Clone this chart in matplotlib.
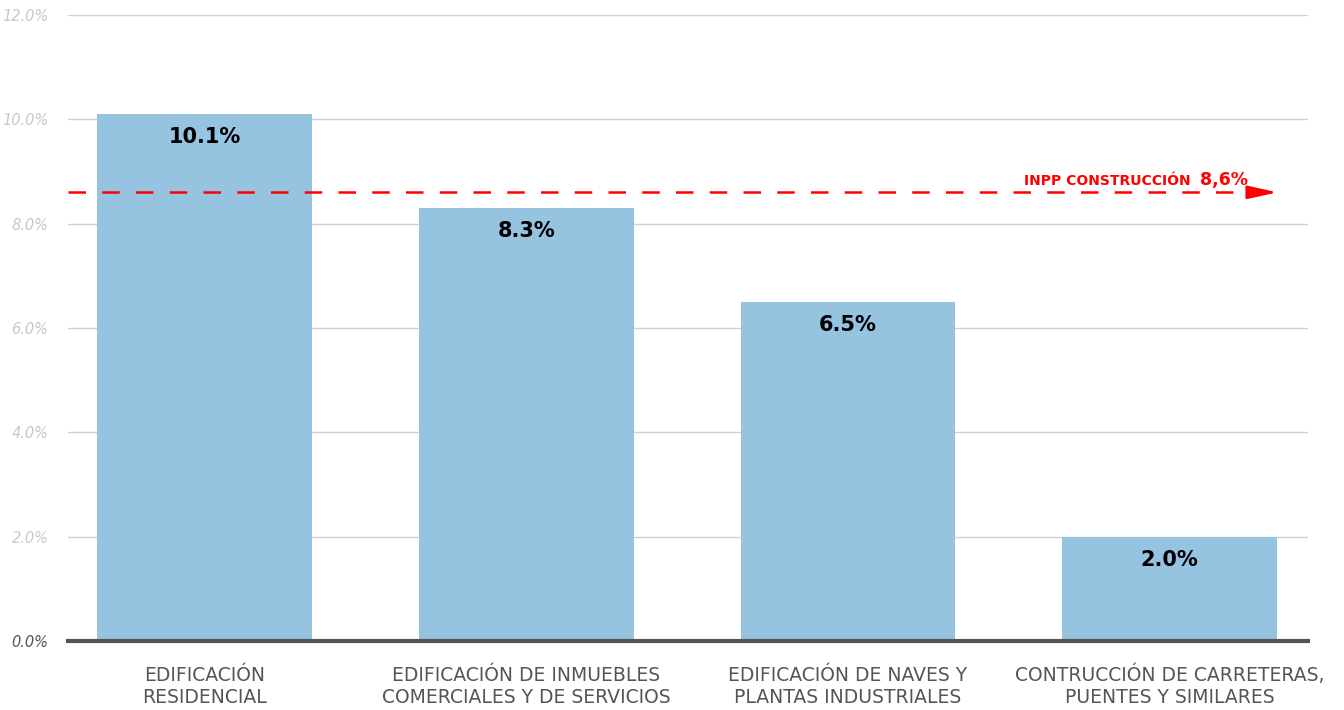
import matplotlib.pyplot as plt
import numpy as np

categories = ["EDIFICACIÓN\nRESIDENCIAL",
              "EDIFICACIÓN DE INMUEBLES\nCOMERCIALES Y DE SERVICIOS",
              "EDIFICACIÓN DE NAVES Y\nPLANTAS INDUSTRIALES",
              "CONTRUCCIÓN DE CARRETERAS,\nPUENTES Y SIMILARES"]
values = [10.1, 8.3, 6.5, 2.0]
inpp = 8.6
yticks = [0, 2, 4, 6, 8, 10, 12]

fig = plt.figure(figsize=(13.44, 7.10), dpi=100)
ax = fig.add_axes([0.0506, 0.0972, 0.9226, 0.8817])

x = np.arange(len(categories))
ax.bar(x, values, width=0.668, color="#96c3e0", zorder=2)

for xi, v in zip(x, values):
    ax.text(xi, v - 0.25, f"{v:.1f}%", ha="center", va="top",
            fontsize=15, fontweight="bold", color="black", zorder=3)

# INPP reference line with arrow
ax.plot([-0.425, 3.25], [inpp, inpp], color="#ff0000", linestyle=(0, (7, 6.5)),
        linewidth=1.8, zorder=4, clip_on=False)
ax.annotate("", xy=(3.335, inpp), xytext=(3.25, inpp),
            arrowprops=dict(arrowstyle="-|>,head_length=0.9,head_width=0.2",
                            color="#ff0000", lw=1.8, mutation_scale=20,
                            shrinkA=0, shrinkB=0), zorder=5)
ax.text(3.065, inpp + 0.14, "INPP CONSTRUCCIÓN", color="#ff0000", fontsize=10,
        fontweight="bold", ha="right", va="baseline")
ax.text(3.095, inpp + 0.14, "8,6%", color="#ff0000", fontsize=12.5,
        fontweight="bold", ha="left", va="baseline")

ax.set_xlim(-0.425, 3.43)
ax.set_ylim(0, 12)
ax.set_yticks(yticks)
ax.set_yticklabels([f"{t:.1f}%" for t in yticks], fontsize=10.5, style="italic",
                   color="#c8c8c8")
ax.get_yticklabels()[0].set_color("#555555")
ax.set_xticks(x)
ax.set_xticklabels([])
# category labels drawn as text so every label sits on the same baseline
for xi, cat in zip(x, categories):
    ax.annotate(cat, xy=(xi, 0), xycoords=("data", "axes fraction"),
                xytext=(0, -45), textcoords="offset points", ha="center",
                va="baseline", fontsize=13.5, color="#555555",
                linespacing=1.2, annotation_clip=False)
ax.tick_params(axis="y", length=0, pad=14)
ax.tick_params(axis="x", length=0)
ax.grid(axis="y", color="#d0d0d0", linewidth=1, zorder=0)
for s in ["top", "right", "left"]:
    ax.spines[s].set_visible(False)
ax.spines["bottom"].set_color("#555555")
ax.spines["bottom"].set_linewidth(3)
ax.spines["bottom"].set_zorder(5)

fig.savefig("out.png", dpi=100)
